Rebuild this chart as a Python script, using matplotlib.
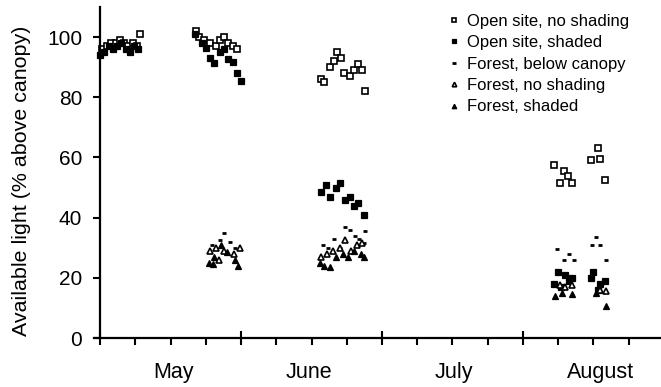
import numpy as np
import matplotlib
matplotlib.use('Agg')
import matplotlib.pyplot as plt
from matplotlib.transforms import blended_transform_factory

plt.rcParams['font.family'] = ['Liberation Sans', 'DejaVu Sans']

# x positions are in months since 1 May (0 = start of May, 1 = start of June, ...)
months = ['May', 'June', 'July', 'August']
month_label_pos = [0.52, 1.48, 2.51, 3.55]

open_ns_x = [0.01, 0.05, 0.08, 0.11, 0.14, 0.17, 0.20, 0.23, 0.26, 0.28,
             0.68, 0.70, 0.74, 0.78, 0.82, 0.85, 0.88, 0.91, 0.94, 0.97,
             1.57, 1.59, 1.63, 1.66, 1.68, 1.71, 1.73, 1.77, 1.80, 1.83, 1.86, 1.88,
             3.22, 3.26, 3.29, 3.32, 3.35, 3.48, 3.53, 3.55, 3.58]
open_ns_y = [96, 97, 98, 98, 99, 98, 97, 98, 97, 101,
             102, 100, 99, 98, 97, 99, 100, 98, 97, 96,
             86, 85, 90, 92, 95, 93, 88, 87, 89, 91, 89, 82,
             57.5, 51.5, 55.5, 54, 51.5, 59, 63, 59.5, 52.5]

open_s_x = [0.00, 0.03, 0.06, 0.09, 0.12, 0.15, 0.18, 0.21, 0.24, 0.27,
            0.67, 0.72, 0.75, 0.78, 0.81, 0.85, 0.88, 0.91, 0.94, 0.97, 1.00,
            1.57, 1.60, 1.63, 1.67, 1.70, 1.74, 1.77, 1.80, 1.83, 1.87,
            3.22, 3.25, 3.27, 3.30, 3.33, 3.35, 3.48, 3.50, 3.53, 3.55, 3.58]
open_s_y = [94, 95, 97, 96, 97, 98, 96, 95, 97, 96,
            101, 98, 96.5, 93, 91.5, 95, 96, 92.7, 91.7, 88, 85.5,
            48.5, 51, 47, 50, 51.5, 46, 47, 44, 45, 41,
            18, 22, 17, 21, 19, 20, 20, 22, 16, 18, 19]

below_x = [0.79, 0.85, 0.88, 0.92, 0.96,
           1.58, 1.62, 1.66, 1.70, 1.74, 1.77, 1.81, 1.84, 1.87, 1.88,
           3.24, 3.29, 3.33, 3.36, 3.49, 3.52, 3.55, 3.59]
below_y = [31, 32.5, 35, 32, 30,
           31, 30, 33, 30, 37, 36, 34, 33, 31.5, 35.5,
           29.5, 26, 28, 26, 31, 33.5, 31, 26]

forest_ns_x = [0.78, 0.82, 0.84, 0.88, 0.95, 0.99,
               1.57, 1.61, 1.65, 1.70, 1.74, 1.78, 1.82, 1.86,
               3.26, 3.30, 3.35, 3.55, 3.59]
forest_ns_y = [29, 30, 26, 29, 28, 30,
               27, 28, 29, 30, 32.5, 29, 31, 31.5,
               17.6, 17, 17.6, 16, 15.6]

forest_s_x = [0.77, 0.80, 0.81, 0.86, 0.90, 0.96, 0.98,
              1.56, 1.59, 1.63, 1.67, 1.72, 1.76, 1.80, 1.85, 1.87,
              3.23, 3.28, 3.35, 3.52, 3.59]
forest_s_y = [25, 24.5, 27, 31, 28.5, 26, 24,
              25, 24, 23.6, 27, 28, 27, 29, 28, 27,
              14, 15, 14.6, 15, 10.6]

fig = plt.figure(figsize=(6.61, 3.87), dpi=100)
ax = fig.add_axes([0.1416, 0.1266, 0.8584, 0.8553])

ms = 4.3
ax.plot(open_ns_x, open_ns_y, 's', ms=ms, mfc='white', mec='black', mew=1.2,
        label='Open site, no shading')
ax.plot(open_s_x, open_s_y, 's', ms=ms, mfc='black', mec='black', mew=0.9,
        label='Open site, shaded')
ax.plot(below_x, below_y, '_', ms=3.5, mec='black', mew=2.0,
        label='Forest, below canopy')
ax.plot(forest_ns_x, forest_ns_y, '^', ms=ms, mfc='white', mec='black', mew=1.2,
        label='Forest, no shading')
ax.plot(forest_s_x, forest_s_y, '^', ms=ms, mfc='black', mec='black', mew=0.9,
        label='Forest, shaded')

ax.set_xlim(-0.047, 3.98)
ax.set_ylim(0, 110)

for side in ['top', 'right']:
    ax.spines[side].set_visible(False)
ax.spines['left'].set_position(('data', 0))
ax.spines['left'].set_bounds(0, 110)
ax.spines['left'].set_linewidth(1.6)
ax.spines['bottom'].set_linewidth(1.6)

ax.set_yticks([0, 20, 40, 60, 80, 100])
ax.tick_params(axis='y', direction='out', length=5, width=1.5, labelsize=15, pad=8)
ax.set_xticks([0, 1, 2, 3])
ax.set_xticklabels([])
ax.set_xticks(np.arange(0.25, 4.0, 0.25), minor=True)
ax.tick_params(axis='x', which='major', direction='inout', length=10, width=1.5)
ax.tick_params(axis='x', which='minor', direction='out', length=5, width=1.5)

trans = blended_transform_factory(ax.transData, ax.transAxes)
for pos, name in zip(month_label_pos, months):
    ax.text(pos, -0.105, name, transform=trans, ha='center', va='center', fontsize=15.5)

ax.set_ylabel('Available light (% above canopy)', fontsize=15.4)
ax.yaxis.set_label_coords(-0.110, 0.474)

ax.legend(loc='upper left', bbox_to_anchor=(449 / 661, 1 - 14 / 387),
          bbox_transform=fig.transFigure, frameon=False, fontsize=12,
          handlelength=0.6, handletextpad=0.5, labelspacing=0.38,
          borderpad=0, borderaxespad=0, markerscale=0.75)

fig.savefig('out.png', dpi=100)
